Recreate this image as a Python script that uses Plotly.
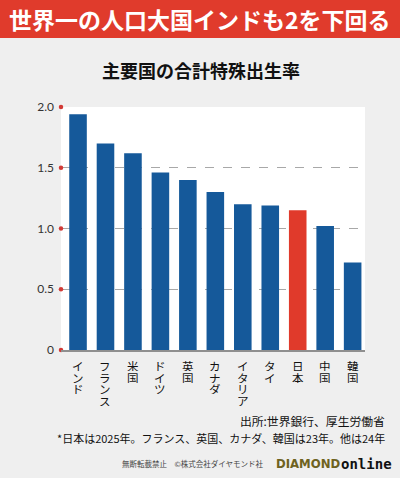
import plotly.graph_objects as go

# data
countries = ["インド", "フランス", "米国", "ドイツ", "英国", "カナダ", "イタリア", "タイ", "日本", "中国", "韓国"]
tfr = [1.94, 1.70, 1.62, 1.46, 1.40, 1.30, 1.20, 1.19, 1.15, 1.02, 0.72]
highlight = "日本"
y_ticks = [0, 0.5, 1.0, 1.5, 2.0]
y_tick_text = ["0", "0.5", "1.0", "1.5", "2.0"]

title = "世界一の人口大国インドも2を下回る"
subtitle = "主要国の合計特殊出生率"
source = "出所:世界銀行、厚生労働省"
note = "*日本は2025年。フランス、英国、カナダ、韓国は23年。他は24年"
copyright_text = "無断転載禁止　©株式会社ダイヤモンド社"

W, H = 400, 478
M_L, M_R, M_T, M_B = 61, 35, 107, 128
PLOT_H = H - M_T - M_B

BLUE = "#15599a"
RED = "#e03a2b"
JP = "Noto Sans CJK JP"


def py(px):
    # pixel row from top -> paper y
    return (H - M_B - px) / PLOT_H


def px_x(px):
    return (px - M_L) / (W - M_L - M_R)


colors = [RED if c == highlight else BLUE for c in countries]

fig = go.Figure()

fig.add_trace(go.Bar(
    x=countries,
    y=tfr,
    marker=dict(color=colors, line=dict(width=0)),
    width=0.64,
    hoverinfo="x+y",
))

# red dots on the y ticks (own linear x axis so x=0 is the left edge)
fig.add_trace(go.Scatter(
    x=[0] * len(y_ticks),
    y=y_ticks,
    xaxis="x2",
    mode="markers",
    marker=dict(color="#d23a36", size=4.5),
    cliponaxis=False,
    hoverinfo="skip",
))

annotations = []

# vertical (tategaki) category labels, one character per row,
# stacked tighter than plotly's <br> line height allows
STEP = 11.6
for c in countries:
    for k, ch in enumerate(c):
        annotations.append(dict(
            x=c, y=0, xref="x", yref="y",
            text=ch, showarrow=False,
            height=STEP - 0.6, borderpad=0,
            yanchor="top", yshift=-9 - k * STEP,
            font=dict(family=JP, size=11.5, color="#111111"),
        ))

annotations += [
    dict(x=px_x(200), y=py(19), xref="paper", yref="paper", text=title,
         showarrow=False, xanchor="center", yanchor="middle",
         font=dict(family=JP, size=23, color="white", weight="bold")),
    dict(x=px_x(201), y=py(70), xref="paper", yref="paper", text=subtitle,
         showarrow=False, xanchor="center", yanchor="middle",
         font=dict(family=JP, size=18, color="#111111", weight="bold")),
    dict(x=px_x(387), y=py(420), xref="paper", yref="paper", text=source,
         showarrow=False, xanchor="right", yanchor="middle",
         font=dict(family=JP, size=11.8, color="#111111")),
    dict(x=px_x(387), y=py(438), xref="paper", yref="paper", text=note,
         showarrow=False, xanchor="right", yanchor="middle",
         font=dict(family=JP, size=11, color="#111111")),
    dict(x=px_x(266), y=py(464), xref="paper", yref="paper", text=copyright_text,
         showarrow=False, xanchor="right", yanchor="middle",
         font=dict(family=JP, size=7.5, color="#444444")),
    dict(x=px_x(274), y=py(463), xref="paper", yref="paper", text="<b>DIAMOND</b>",
         showarrow=False, xanchor="left", yanchor="middle",
         font=dict(family="DejaVu Sans Condensed", size=13, color="#6e6220")),
    dict(x=px_x(394), y=py(464), xref="paper", yref="paper", text="<b>online</b>",
         showarrow=False, xanchor="right", yanchor="middle",
         font=dict(family="DejaVu Sans Mono", size=14, color="#111111")),
]

shapes = [
    dict(type="rect", xref="paper", yref="paper",
         x0=px_x(0), x1=px_x(W), y0=py(38), y1=py(0),
         fillcolor="#e03b2c", line=dict(width=0), layer="below"),
]

fig.update_layout(
    width=W, height=H,
    margin=dict(l=M_L, r=M_R, t=M_T, b=M_B),
    paper_bgcolor="#efefef",
    plot_bgcolor="white",
    showlegend=False,
    bargap=0.36,
    annotations=annotations,
    shapes=shapes,
    xaxis=dict(
        range=[-0.62, 10.45],
        showticklabels=False,
        showgrid=False,
        showline=True, linecolor="#8f8f8f", linewidth=1.5,
        ticks="", fixedrange=True,
    ),
    xaxis2=dict(
        overlaying="x", range=[0, 1], visible=False, fixedrange=True,
    ),
    yaxis=dict(
        range=[0, 2.0],
        tickvals=y_ticks, ticktext=y_tick_text,
        showgrid=True, gridcolor="#a8a8a8", griddash="dash", gridwidth=1,
        zeroline=False, showline=False, ticks="",
        ticklabelstandoff=6,
        tickfont=dict(family="Lato", size=12, color="#333333"),
        fixedrange=True,
    ),
)

fig.write_html(
    "out.html",
    config={"displayModeBar": False},
    post_script="document.body.style.margin='0';document.body.style.overflow='hidden';",
)
